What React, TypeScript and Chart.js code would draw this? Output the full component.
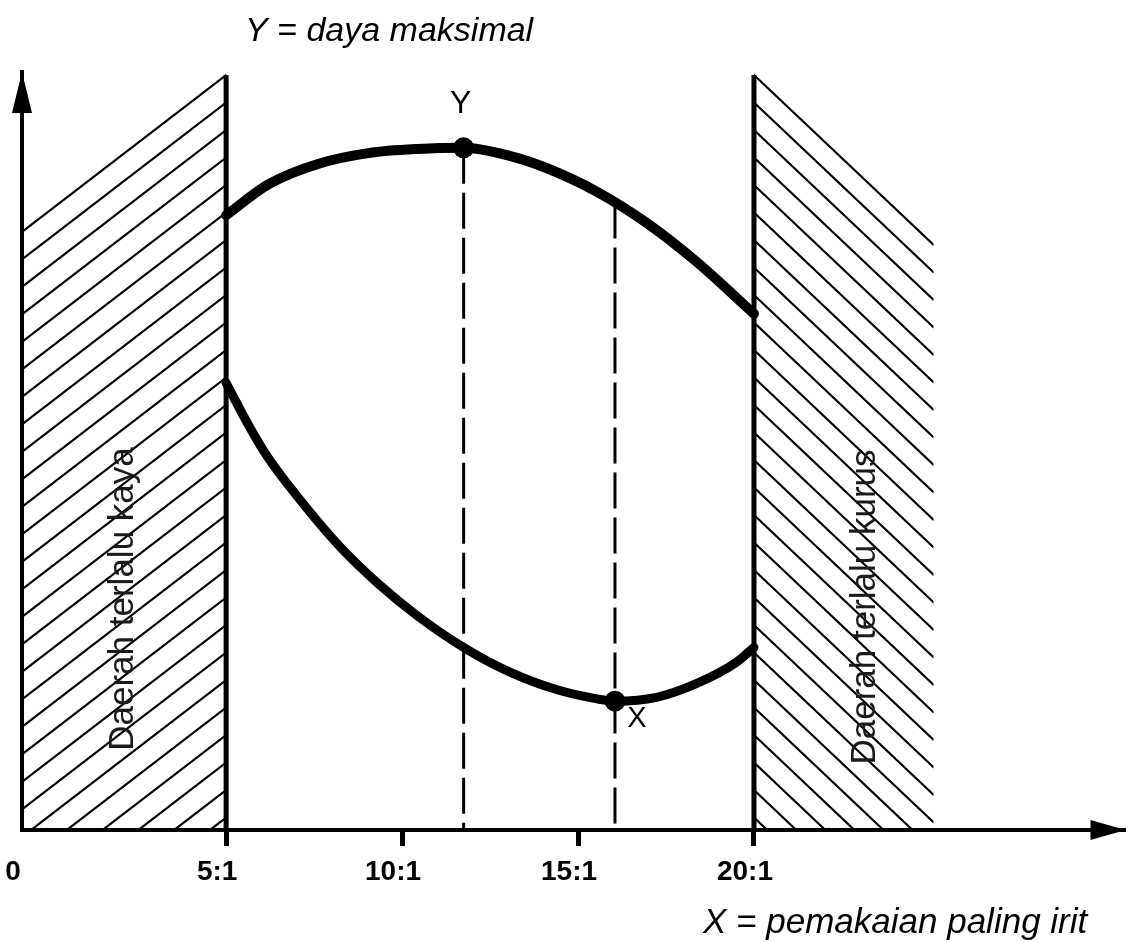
import React, { useEffect, useRef } from 'react';
import { Chart, registerables } from 'chart.js';

Chart.register(...registerables);

// ---- axis ----
const xAxisStart = -0.8;
const xAxisEnd = 30.5;
const yAxisMax = 100;
const xTickValues = [-0.8, 5, 10, 15, 20];
const xTickLabels = ['0', '5:1', '10:1', '15:1', '20:1'];

// ---- curves ----
const powerX = [5, 6.21, 7.63, 9.04, 10.45, 11.75, 13.08, 14.12, 15.54, 16.95, 18.36, 20];
const powerY = [81.1, 85.2, 87.9, 89.3, 89.85, 90.0, 88.9, 87.3, 84.2, 80.1, 75.0, 68.1];

const consumptionX = [5, 5.65, 6.21, 7.06, 8.19, 9.32, 10.45, 11.78, 13.08, 14.41, 15.54, 16.05, 17.23, 18.36, 19.49, 20];
const consumptionY = [59.0, 53.3, 49.0, 43.8, 37.6, 32.5, 28.2, 24.0, 20.8, 18.5, 17.3, 17.0, 17.5, 19.3, 22.1, 24.1];

// ---- marked points ----
const maxPowerX = 11.75;
const maxPowerY = 90.0;
const economyX = 16.05;
const economyY = 17.0;
const economyDashTop = 82.8;

// ---- zones ----
const richLimit = 5;
const leanLimit = 20;
const zoneTop = 99.6;
const richZoneX = [-0.8, 5];
const richZoneTop = [78.9, 99.6];
const leanZoneX = [20, 25.1];
const leanZoneTop = [99.6, 77.2];

// ---- texts ----
const titleText = 'Y = daya maksimal';
const xAxisText = 'X = pemakaian paling irit';
const richText = 'Daerah terlalu kaya';
const leanText = 'Daerah terlalu kurus';
const maxPowerLabel = 'Y';
const economyLabel = 'X';

const FONT = '"Liberation Sans", Arial, sans-serif';

const hatchPlugin = {
  id: 'hatchZones',
  beforeDatasetsDraw(chart: any) {
    const { ctx } = chart;
    const x = chart.scales.x;
    const y = chart.scales.y;
    const bottom = y.getPixelForValue(0);
    const drawZone = (zx: number[], zt: number[]) => {
      const xl = x.getPixelForValue(zx[0]);
      const xr = x.getPixelForValue(zx[1]);
      const yl = y.getPixelForValue(zt[0]);
      const yr = y.getPixelForValue(zt[1]);
      const top = Math.min(yl, yr) - 3;
      ctx.save();
      ctx.beginPath();
      ctx.rect(xl, top, xr - xl, bottom - top);
      ctx.clip();
      ctx.strokeStyle = '#000';
      ctx.lineWidth = 2.2;
      ctx.lineCap = 'round';
      for (let k = 0; k < 40; k++) {
        const off = k * 27.5;
        ctx.beginPath();
        ctx.moveTo(xl, yl + off);
        ctx.lineTo(xr, yr + off);
        ctx.stroke();
      }
      ctx.restore();
    };
    drawZone(richZoneX, richZoneTop);
    drawZone(leanZoneX, leanZoneTop);
  },
};

const decorPlugin = {
  id: 'decor',
  afterDraw(chart: any) {
    const { ctx, chartArea } = chart;
    const x = chart.scales.x;
    const y = chart.scales.y;
    ctx.save();
    ctx.fillStyle = '#000';
    // y arrow
    const ax = chartArea.left;
    const at = chartArea.top;
    ctx.beginPath();
    ctx.moveTo(ax, at);
    ctx.lineTo(ax - 10, at + 41);
    ctx.lineTo(ax + 10, at + 41);
    ctx.closePath();
    ctx.fill();
    // x arrow
    const bx = chartArea.right + 2;
    const by = chartArea.bottom;
    ctx.beginPath();
    ctx.moveTo(bx, by);
    ctx.lineTo(bx - 35, by - 10);
    ctx.lineTo(bx - 35, by + 10);
    ctx.closePath();
    ctx.fill();

    // texts
    ctx.fillStyle = '#000';
    ctx.textBaseline = 'alphabetic';
    ctx.textAlign = 'left';
    ctx.font = `italic 34px ${FONT}`;
    ctx.fillText(titleText, 245, 41);
    ctx.font = `italic 35px ${FONT}`;
    ctx.fillText(xAxisText, 703, 933);

    // point labels
    ctx.textAlign = 'center';
    ctx.font = `32px ${FONT}`;
    const py = y.getPixelForValue(maxPowerY);
    const px = x.getPixelForValue(maxPowerX);
    ctx.fillText(maxPowerLabel, px - 3, py - 35);
    const ex = x.getPixelForValue(economyX);
    const ey = y.getPixelForValue(economyY);
    ctx.font = `29px ${FONT}`;
    ctx.fillText(economyLabel, ex + 22, ey + 26);

    // zone labels (rotated)
    ctx.fillStyle = '#1a1a1a';
    ctx.font = `35px ${FONT}`;
    ctx.save();
    ctx.translate(133, 599);
    ctx.rotate(-Math.PI / 2);
    ctx.fillText(richText, 0, 0);
    ctx.restore();
    ctx.save();
    ctx.translate(875, 607);
    ctx.rotate(-Math.PI / 2);
    ctx.fillText(leanText, 0, 0);
    ctx.restore();
    ctx.restore();
  },
};

export default function App() {
  const ref = useRef<HTMLCanvasElement | null>(null);
  useEffect(() => {
    if (!ref.current) return;
    const pts = (xs: number[], ys: number[]) => xs.map((v, i) => ({ x: v, y: ys[i] }));
    const chart = new Chart(ref.current, {
      type: 'line',
      data: {
        datasets: [
          {
            label: 'points',
            data: [
              { x: maxPowerX, y: maxPowerY },
              { x: economyX, y: economyY },
            ],
            showLine: false,
            pointRadius: 10.5,
            pointBackgroundColor: '#000',
            pointBorderWidth: 0,
            clip: false,
          } as any,
          {
            label: 'power',
            data: pts(powerX, powerY),
            borderColor: '#000',
            borderWidth: 10,
            pointRadius: 0,
            cubicInterpolationMode: 'monotone',
            borderCapStyle: 'round',
            clip: false,
          },
          {
            label: 'consumption',
            data: pts(consumptionX, consumptionY),
            borderColor: '#000',
            borderWidth: 9,
            pointRadius: 0,
            cubicInterpolationMode: 'monotone',
            borderCapStyle: 'round',
            clip: false,
          },
          {
            label: 'richLimit',
            data: [
              { x: richLimit, y: zoneTop },
              { x: richLimit, y: 0 },
            ],
            borderColor: '#000',
            borderWidth: 5,
            pointRadius: 0,
            clip: false,
          },
          {
            label: 'leanLimit',
            data: [
              { x: leanLimit, y: zoneTop },
              { x: leanLimit, y: 0 },
            ],
            borderColor: '#000',
            borderWidth: 5,
            pointRadius: 0,
            clip: false,
          },
          {
            label: 'dashY',
            data: [
              { x: maxPowerX, y: maxPowerY },
              { x: maxPowerX, y: 0 },
            ],
            borderColor: '#000',
            borderWidth: 3,
            borderDash: [36, 9],
            pointRadius: 0,
          },
          {
            label: 'dashX',
            data: [
              { x: economyX, y: economyDashTop },
              { x: economyX, y: 0 },
            ],
            borderColor: '#000',
            borderWidth: 3,
            borderDash: [36, 9],
            pointRadius: 0,
          },
        ],
      },
      options: {
        animation: false,
        responsive: false,
        events: [],
        layout: { padding: { top: 72, left: 22, right: 4, bottom: 44.4 } },
        plugins: { legend: { display: false }, tooltip: { enabled: false }, title: { display: false } },
        scales: {
          x: {
            type: 'linear',
            min: xAxisStart,
            max: xAxisEnd,
            afterBuildTicks: (axis: any) => {
              axis.ticks = xTickValues.map((v) => ({ value: v }));
            },
            ticks: {
              autoSkip: false,
              maxRotation: 0,
              padding: 9,
              labelOffset: -9,
              color: '#000',
              font: { family: FONT, size: 28, weight: 'bold' },
              callback: (_v: any, i: number) => xTickLabels[i],
            },
            grid: {
              drawOnChartArea: false,
              drawTicks: true,
              tickLength: 16,
              lineWidth: 5,
              color: (c: any) => (c.index === 0 ? 'rgba(0,0,0,0)' : '#000'),
            },
            border: { display: true, width: 4, color: '#000' },
          },
          y: {
            type: 'linear',
            min: 0,
            max: yAxisMax,
            ticks: { display: false },
            grid: { display: true, drawOnChartArea: false, drawTicks: false, color: 'rgba(0,0,0,0)' },
            border: { display: true, width: 4, color: '#000' },
          },
        },
      } as any,
      plugins: [hatchPlugin, decorPlugin],
    });
    return () => chart.destroy();
  }, []);
  return (
    <div style={{ position: 'absolute', left: 0, top: 0, width: 1134, height: 942, background: '#fff' }}>
      <canvas ref={ref} width={1134} height={942} style={{ display: 'block' }} />
    </div>
  );
}
